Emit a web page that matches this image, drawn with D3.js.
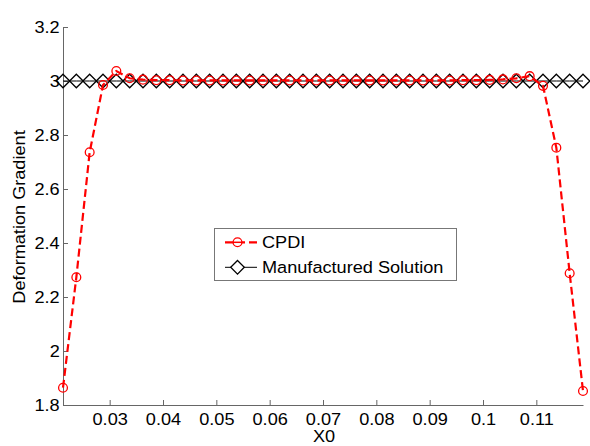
<!DOCTYPE html>
<html>
<head>
<meta charset="utf-8">
<script src="https://cdn.jsdelivr.net/npm/d3@7"></script>
<style>
  body { margin: 0; background: #fff; }
  svg { display: block; }
  text { font-family: "Liberation Sans", Arial, sans-serif; }
</style>
</head>
<body>
<svg id="chart" width="590" height="446"></svg>
<script>
// Particle positions (40 particles, spacing 0.0025)
const positions = d3.range(40).map(k => 0.02125 + k * 0.0025);

// CPDI deformation gradient per particle
const cpdiValues = [
  1.864, 2.273, 2.736, 2.985, 3.037, 3.010, 3.005, 3.003, 3.003, 3.002,
  3.002, 3.002, 3.002, 3.002, 3.002, 3.002, 3.002, 3.002, 3.002, 3.002,
  3.002, 3.002, 3.002, 3.002, 3.002, 3.002, 3.002, 3.002, 3.002, 3.002,
  3.003, 3.003, 3.004, 3.006, 3.010, 3.018, 2.982, 2.753, 2.288, 1.852
];

// Manufactured (exact) solution
const exactValues = positions.map(() => 3.0);

const xTicks = [0.03, 0.04, 0.05, 0.06, 0.07, 0.08, 0.09, 0.1, 0.11];
const yTicks = [1.8, 2.0, 2.2, 2.4, 2.6, 2.8, 3.0, 3.2];

const seriesNames = ["CPDI", "Manufactured Solution"];

const svg = d3.select("#chart");
const plotLeft = 63, plotRight = 583, plotTop = 27, plotBottom = 405;
const fontSize = 16.5;
const stretch = 1.1; // text is rendered slightly wide

const x = d3.scaleLinear().domain([0.02125, 0.11875]).range([plotLeft, plotRight]);
const y = d3.scaleLinear().domain([1.8, 3.2]).range([plotBottom, plotTop]);

const axisColor = "#666";

// X axis (ticks pointing inward)
const gx = svg.append("g").attr("transform", `translate(0,${plotBottom})`)
  .call(d3.axisBottom(x).tickValues(xTicks).tickSizeInner(-5).tickSizeOuter(0)
    .tickPadding(8).tickFormat(d => String(+d.toFixed(2))));
gx.select(".domain").attr("stroke", axisColor);
gx.selectAll(".tick line").attr("stroke", axisColor);
gx.selectAll(".tick text").attr("fill", "#000").attr("font-size", fontSize)
  .attr("font-family", "Liberation Sans, Arial, sans-serif")
  .attr("transform", `scale(${stretch},1)`);

// Y axis
const gy = svg.append("g").attr("transform", `translate(${plotLeft},0)`)
  .call(d3.axisLeft(y).tickValues(yTicks).tickSizeInner(-5).tickSizeOuter(0)
    .tickPadding(3).tickFormat(d => String(+d.toFixed(1))));
gy.select(".domain").attr("stroke", axisColor);
gy.selectAll(".tick line").attr("stroke", axisColor);
gy.selectAll(".tick text").attr("fill", "#000").attr("font-size", fontSize)
  .attr("font-family", "Liberation Sans, Arial, sans-serif")
  .attr("transform", `scale(${stretch},1)`);

// Axis titles
svg.append("text").attr("transform", `translate(${(plotLeft + plotRight) / 2 + 1},442) scale(${stretch},1)`)
  .attr("text-anchor", "middle").attr("font-size", fontSize).text("X0");
svg.append("text").attr("transform", `translate(25,${(plotTop + plotBottom) / 2 + 1}) rotate(-90) scale(${stretch},1)`)
  .attr("text-anchor", "middle").attr("font-size", fontSize).text("Deformation Gradient");

const line = d3.line().x(d => x(d[0])).y(d => y(d[1]));
const diamond = (cx, cy, r) => `M${cx},${cy - r}L${cx + r},${cy}L${cx},${cy + r}L${cx - r},${cy}Z`;

// Manufactured solution: solid black line with diamonds
const exactData = d3.zip(positions, exactValues);
svg.append("path").datum(exactData).attr("d", line)
  .attr("fill", "none").attr("stroke", "#000").attr("stroke-width", 1);
svg.append("g").selectAll("path").data(exactData).join("path")
  .attr("d", d => diamond(x(d[0]), y(d[1]), 6.8))
  .attr("fill", "none").attr("stroke", "#000").attr("stroke-width", 1.3);

// CPDI: red dashed line with circles
const cpdiData = d3.zip(positions, cpdiValues);
svg.append("path").datum(cpdiData).attr("d", line)
  .attr("fill", "none").attr("stroke", "#ff0000").attr("stroke-width", 2.2)
  .attr("stroke-dasharray", "8,4");
svg.append("g").selectAll("circle").data(cpdiData).join("circle")
  .attr("cx", d => x(d[0])).attr("cy", d => y(d[1])).attr("r", 4.4)
  .attr("fill", "none").attr("stroke", "#ff0000").attr("stroke-width", 1.3);

// Legend
const lg = svg.append("g");
lg.append("rect").attr("x", 214.5).attr("y", 228.5).attr("width", 242).attr("height", 52)
  .attr("fill", "#fff").attr("stroke", "#777").attr("stroke-width", 1);
const entries = [
  { name: seriesNames[0], y: 242.3, color: "#ff0000", dash: "8,4", width: 2.2, marker: "circle" },
  { name: seriesNames[1], y: 267.3, color: "#000", dash: null, width: 1, marker: "diamond" }
];
entries.forEach(e => {
  lg.append("line").attr("x1", 225).attr("x2", 257).attr("y1", e.y).attr("y2", e.y)
    .attr("stroke", e.color).attr("stroke-width", e.width)
    .attr("stroke-dasharray", e.dash);
  if (e.marker === "circle") {
    lg.append("circle").attr("cx", 237.5).attr("cy", e.y).attr("r", 4.4)
      .attr("fill", "#fff").attr("stroke", e.color).attr("stroke-width", 1.3);
    lg.append("line").attr("x1", 233).attr("x2", 242).attr("y1", e.y).attr("y2", e.y)
      .attr("stroke", e.color).attr("stroke-width", 1.5);
  } else {
    lg.append("path").attr("d", diamond(237.5, e.y, 6.8))
      .attr("fill", "#fff").attr("stroke", e.color).attr("stroke-width", 1.3);
  }
  lg.append("text").attr("transform", `translate(262,${e.y + 6}) scale(${stretch},1)`)
    .attr("font-size", fontSize).attr("fill", "#000").text(e.name);
});
</script>
</body>
</html>
